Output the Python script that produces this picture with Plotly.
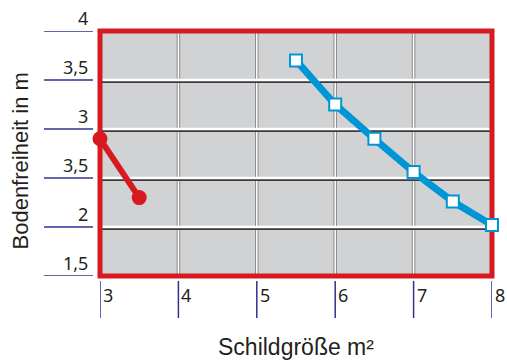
import plotly.graph_objects as go

# Data
red_x = [3, 3.5]
red_y = [2.9, 2.3]
blue_x = [5.5, 6, 6.5, 7, 7.5, 8]
blue_y = [3.7, 3.25, 2.9, 2.56, 2.26, 2.02]

x_tick_vals = [3, 4, 5, 6, 7, 8]
x_tick_text = ["3", "4", "5", "6", "7", "8"]
y_tick_vals = [4, 3.5, 3, 2.5, 2, 1.5]
y_tick_text = ["4", "3,5", "3", "3,5", "2", "1,5"]
x_grid = [4, 5, 6, 7]
y_grid = [3.5, 3, 2.5, 2]
x_title = "Schildgröße m²"
y_title = "Bodenfreiheit in m"

RED = "#d71920"
BLUE = "#0096d6"
NAVY = "#2e3192"
GRAY = "#d1d2d4"
TICKFONT = "Noto Sans"
TITLEFONT = "Liberation Sans"
TEXT = "#231f20"

fig = go.Figure()
fig.add_trace(go.Scatter(
    x=red_x, y=red_y, mode="lines+markers",
    line=dict(color=RED, width=6),
    marker=dict(symbol="circle", size=15, color=RED),
    cliponaxis=False, showlegend=False, hoverinfo="skip"))
fig.add_trace(go.Scatter(
    x=blue_x, y=blue_y, mode="lines+markers",
    line=dict(color=BLUE, width=7),
    marker=dict(symbol="square", size=12, color="white", line=dict(color=BLUE, width=2)),
    cliponaxis=False, showlegend=False, hoverinfo="skip"))

shapes = []
for v in x_grid:
    shapes.append(dict(type="line", xref="x", yref="paper", x0=v, x1=v, y0=0, y1=1,
                       line=dict(color="#8a8b8d", width=3.5), layer="between"))
    shapes.append(dict(type="line", xref="x", yref="paper", x0=v, x1=v, y0=0, y1=1,
                       line=dict(color="white", width=1.5), layer="between"))
for v in y_grid:
    shapes.append(dict(type="line", xref="paper", yref="y", x0=0, x1=1,
                       ysizemode="pixel", yanchor=v, y0=-2, y1=-2,
                       line=dict(color="#3a3a3c", width=2), layer="between"))
    shapes.append(dict(type="line", xref="paper", yref="y", x0=0, x1=1, y0=v, y1=v,
                       line=dict(color="white", width=2.5), layer="between"))
shapes.append(dict(type="rect", xref="paper", yref="paper", x0=0, x1=1, y0=0, y1=1,
                   line=dict(color=RED, width=5), layer="between"))
for v in x_tick_vals:
    shapes.append(dict(type="line", xref="x", yref="paper", x0=v, x1=v,
                       ysizemode="pixel", yanchor=0, y0=-5, y1=-42,
                       line=dict(color=NAVY, width=1.5)))
for v in y_tick_vals:
    shapes.append(dict(type="line", xref="paper", yref="y", y0=v, y1=v,
                       xsizemode="pixel", xanchor=0, x0=-56, x1=-7,
                       line=dict(color=NAVY, width=1.5)))

annotations = []
for v, t in zip(x_tick_vals, x_tick_text):
    annotations.append(dict(x=v, y=0, xref="x", yref="paper", text=t, showarrow=False,
                            xanchor="left", yanchor="top", xshift=1, yshift=-5,
                            font=dict(family=TICKFONT, size=18, color=TEXT)))
for v, t in zip(y_tick_vals, y_tick_text):
    annotations.append(dict(x=0, y=v, xref="paper", yref="y", text=t, showarrow=False,
                            xanchor="right", yanchor="bottom", xshift=-10, yshift=-1,
                            font=dict(family=TICKFONT, size=18, color=TEXT)))
annotations.append(dict(x=0.5, y=0, xref="paper", yref="paper", text=x_title, showarrow=False,
                        xanchor="center", yanchor="middle", yshift=-71,
                        font=dict(family=TITLEFONT, size=23, color=TEXT)))
annotations.append(dict(x=0, y=0.5, xref="paper", yref="paper", text=y_title, showarrow=False,
                        textangle=-90, xanchor="center", yanchor="middle", xshift=-80, yshift=-8,
                        font=dict(family=TITLEFONT, size=22, color=TEXT)))

fig.update_layout(
    width=507, height=361,
    margin=dict(l=100, r=15, t=31, b=85),
    paper_bgcolor="white", plot_bgcolor=GRAY,
    shapes=shapes, annotations=annotations,
    font=dict(family=TICKFONT, color=TEXT),
    xaxis=dict(range=[3, 8], showgrid=False, zeroline=False, showticklabels=False,
               showline=False, ticks=""),
    yaxis=dict(range=[1.5, 4], showgrid=False, zeroline=False, showticklabels=False,
               showline=False, ticks=""),
)

fig.write_html("out.html", config={"displayModeBar": False},
               post_script="document.body.style.margin='0';")
